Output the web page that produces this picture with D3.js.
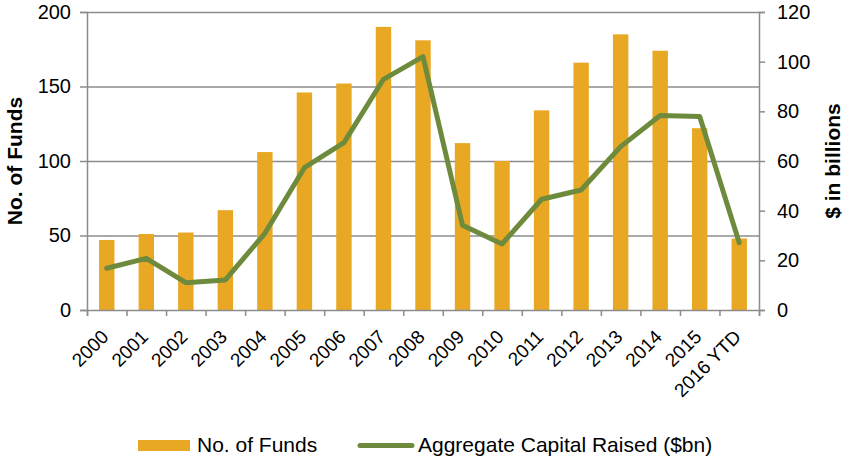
<!DOCTYPE html>
<meta charset="utf-8">
<style>
  body { margin: 0; background: #fff; }
  text { font-family: "Liberation Sans", Arial, sans-serif; fill: #000; }
</style>

<!-- Load d3.js -->
<script src="https://d3js.org/d3.v7.min.js"></script>

<!-- Create a div where the graph will take place -->
<div id="my_dataviz"></div>

<script>

// data
var years = ["2000", "2001", "2002", "2003", "2004", "2005", "2006", "2007", "2008",
             "2009", "2010", "2011", "2012", "2013", "2014", "2015", "2016 YTD"];
var noOfFunds = [47, 51, 52, 67, 106, 146, 152, 190, 181, 112, 100, 134, 166, 185, 174, 122, 48];
var capitalRaised = [16.8, 20.8, 11.0, 12.1, 30.9, 57.3, 67.4, 92.9, 102.0, 34.1, 26.6, 44.6,
                     48.3, 65.8, 78.3, 77.9, 27.1];
var leftTicks = [0, 50, 100, 150, 200];
var rightTicks = [0, 20, 40, 60, 80, 100, 120];

var barColor = "#E9A823",
    lineColor = "#6E8B3D",
    axisColor = "#8C8C8C";

// set the dimensions and margins of the graph
var margin = {top: 12, right: 86, bottom: 148, left: 87},
    width = 845 - margin.left - margin.right,
    height = 458 - margin.top - margin.bottom;

// append the svg object to the body of the page
var root = d3.select("#my_dataviz")
  .append("svg")
    .attr("width", 845)
    .attr("height", 458);
var svg = root.append("g")
    .attr("transform", "translate(" + margin.left + "," + margin.top + ")");

// scales
var x = d3.scaleBand()
  .domain(years)
  .range([0, width])
  .paddingInner(0.61)
  .paddingOuter(0.305);

var xEdges = d3.scaleLinear()
  .domain([0, years.length])
  .range([0, width]);

var y = d3.scaleLinear()
  .domain([0, 200])
  .range([height, 0]);

var y2 = d3.scaleLinear()
  .domain([0, 120])
  .range([height, 0]);

// gridlines
svg.append("g")
  .attr("class", "grid")
  .call(d3.axisLeft(y).tickValues(leftTicks.slice(1)).tickSize(-width).tickFormat(""))
  .call(function(g) { g.select(".domain").remove(); })
  .selectAll("line")
    .attr("stroke", axisColor)
    .attr("stroke-width", 1.3);

// bars
svg.append("g")
  .selectAll("rect")
  .data(years)
  .enter()
  .append("rect")
    .attr("x", function(d) { return x(d); })
    .attr("width", x.bandwidth())
    .attr("y", function(d, i) { return y(noOfFunds[i]); })
    .attr("height", function(d, i) { return height - y(noOfFunds[i]); })
    .attr("fill", barColor);

// Add left Y axis
var yAxis = svg.append("g")
  .call(d3.axisLeft(y).tickValues(leftTicks).tickSize(7).tickPadding(9));

// Add right Y axis
var y2Axis = svg.append("g")
  .attr("transform", "translate(" + width + ",0)")
  .call(d3.axisRight(y2).tickValues(rightTicks).tickSize(6).tickPadding(12));

// Add X axis (ticks on the category boundaries)
var xAxis = svg.append("g")
  .attr("transform", "translate(0," + height + ")")
  .call(d3.axisBottom(xEdges).tickValues(d3.range(years.length + 1)).tickSize(6).tickFormat(""));

[yAxis, y2Axis, xAxis].forEach(function(a) {
  a.selectAll(".domain").attr("stroke", axisColor).attr("stroke-width", 1.5);
  a.selectAll(".tick line").attr("stroke", axisColor).attr("stroke-width", 1.5);
  a.selectAll(".tick text").style("font-size", "20px").attr("fill", "#000");
});

// category labels, rotated
svg.append("g")
  .selectAll("text")
  .data(years)
  .enter()
  .append("text")
    .attr("transform", function(d) {
      return "translate(" + (x(d) + x.bandwidth() / 2 + 3) + "," + (height + 28) + ") rotate(-45)";
    })
    .attr("text-anchor", "end")
    .style("font-size", "19px")
    .text(function(d) { return d; });

// line
svg.append("path")
  .datum(capitalRaised)
  .attr("fill", "none")
  .attr("stroke", lineColor)
  .attr("stroke-width", 5)
  .attr("stroke-linejoin", "round")
  .attr("stroke-linecap", "round")
  .attr("d", d3.line()
    .x(function(d, i) { return x(years[i]) + x.bandwidth() / 2; })
    .y(function(d) { return y2(d); })
  );

// axis titles
root.append("text")
  .attr("transform", "translate(22," + (margin.top + height / 2) + ") rotate(-90)")
  .attr("text-anchor", "middle")
  .style("font-size", "21px")
  .style("font-weight", "bold")
  .text("No. of Funds");

root.append("text")
  .attr("transform", "translate(840," + (margin.top + height / 2) + ") rotate(-90)")
  .attr("text-anchor", "middle")
  .style("font-size", "21px")
  .style("font-weight", "bold")
  .text("$ in billions");

// legend
var legend = root.append("g");
legend.append("rect")
  .attr("x", 138).attr("y", 440)
  .attr("width", 52).attr("height", 11)
  .attr("fill", barColor);
legend.append("text")
  .attr("x", 197).attr("y", 452)
  .style("font-size", "21px")
  .text("No. of Funds");
legend.append("line")
  .attr("x1", 360).attr("x2", 412)
  .attr("y1", 445.5).attr("y2", 445.5)
  .attr("stroke", lineColor)
  .attr("stroke-width", 5)
  .attr("stroke-linecap", "round");
legend.append("text")
  .attr("x", 418).attr("y", 452)
  .style("font-size", "21px")
  .text("Aggregate Capital Raised ($bn)");

</script>
